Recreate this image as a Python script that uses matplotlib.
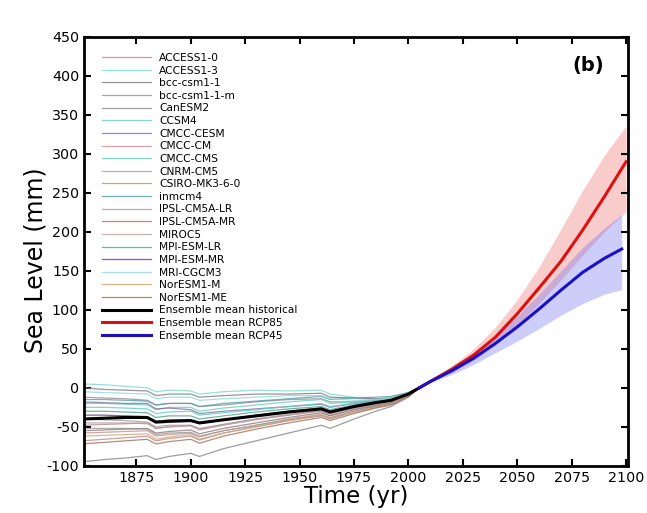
import matplotlib
matplotlib.use("Agg")
import matplotlib.pyplot as plt

plt.rcParams['axes.unicode_minus'] = False

# historical period, sampled years (mm, relative to 2005)
hist_years = [1850, 1860, 1870, 1880, 1884, 1890, 1900, 1904, 1915, 1930,
              1945, 1960, 1964, 1975, 1985, 1992, 2000, 2005]

model_names = ["ACCESS1-0", "ACCESS1-3", "bcc-csm1-1", "bcc-csm1-1-m", "CanESM2",
               "CCSM4", "CMCC-CESM", "CMCC-CM", "CMCC-CMS", "CNRM-CM5",
               "CSIRO-MK3-6-0", "inmcm4", "IPSL-CM5A-LR", "IPSL-CM5A-MR", "MIROC5",
               "MPI-ESM-LR", "MPI-ESM-MR", "MRI-CGCM3", "NorESM1-M", "NorESM1-ME"]

model_colors = ["#b08898", "#80d4d4", "#7c7c7c", "#909090", "#868686",
                "#70c8c0", "#8070a0", "#c89090", "#60c8c8", "#a0a0a0",
                "#b88a80", "#5a9aa8", "#9a9a9a", "#8a7a78", "#c09898",
                "#50a090", "#604070", "#90d8d8", "#d4a478", "#a07060"]

model_values = [
    [-48, -47, -46, -45, -52, -50, -48, -53, -47, -40, -35, -30, -35, -27, -22, -18, -8, 0],
    [5, 4, 2, 0, -5, -3, -4, -8, -5, -3, -4, -3, -8, -12, -15, -12, -6, 0],
    [0, -2, -3, -4, -10, -8, -8, -12, -10, -8, -8, -7, -12, -13, -14, -13, -7, 0],
    [-12, -13, -14, -16, -22, -20, -20, -24, -22, -18, -15, -14, -18, -18, -16, -15, -8, 0],
    [-95, -92, -90, -87, -92, -88, -84, -88, -78, -68, -58, -48, -52, -40, -30, -24, -12, 0],
    [-20, -20, -21, -22, -28, -25, -25, -30, -26, -22, -18, -15, -20, -18, -15, -14, -7, 0],
    [-18, -19, -20, -20, -27, -26, -28, -33, -30, -27, -24, -21, -25, -20, -17, -16, -8, 0],
    [-58, -57, -56, -55, -62, -60, -58, -63, -55, -48, -40, -34, -38, -30, -24, -20, -10, 0],
    [-25, -25, -26, -27, -33, -31, -30, -35, -32, -28, -24, -20, -24, -20, -17, -15, -8, 0],
    [-40, -41, -42, -44, -50, -48, -48, -52, -47, -40, -34, -29, -33, -26, -21, -18, -9, 0],
    [-68, -66, -64, -62, -68, -65, -62, -67, -58, -50, -42, -36, -40, -31, -25, -21, -10, 0],
    [-15, -15, -16, -17, -22, -20, -20, -24, -20, -17, -14, -11, -15, -13, -12, -11, -6, 0],
    [-52, -52, -52, -53, -60, -58, -57, -62, -55, -48, -41, -35, -39, -30, -24, -20, -10, 0],
    [-55, -54, -53, -52, -58, -56, -54, -59, -52, -45, -38, -32, -36, -28, -23, -19, -9, 0],
    [-45, -45, -45, -46, -52, -50, -49, -54, -48, -41, -35, -29, -33, -26, -21, -18, -9, 0],
    [-30, -30, -31, -32, -38, -36, -36, -40, -36, -31, -27, -24, -28, -22, -18, -16, -8, 0],
    [-35, -35, -36, -37, -43, -41, -41, -46, -41, -35, -30, -26, -30, -24, -19, -17, -8, 0],
    [-5, -6, -7, -8, -14, -12, -12, -16, -14, -12, -10, -10, -14, -16, -15, -13, -7, 0],
    [-62, -61, -60, -59, -66, -63, -60, -66, -58, -50, -42, -35, -39, -31, -25, -21, -10, 0],
    [-72, -70, -68, -66, -72, -69, -66, -71, -62, -53, -45, -38, -42, -33, -26, -22, -11, 0],
]

hist_mean = [-40, -39, -38, -38, -44, -43, -42, -45, -41, -36, -31, -27, -31, -24, -19, -16, -8, 0]

# projections
rcp85_years = [2005, 2010, 2020, 2030, 2040, 2050, 2060, 2070, 2080, 2090, 2100]
rcp85_mean = [0, 8, 24, 42, 65, 95, 128, 162, 202, 245, 290]
rcp85_high = [0, 9, 28, 50, 78, 113, 155, 203, 253, 298, 336]
rcp85_low = [0, 7, 20, 35, 55, 80, 108, 138, 170, 200, 226]

rcp45_years = [2005, 2010, 2020, 2030, 2040, 2050, 2060, 2070, 2080, 2090, 2098]
rcp45_mean = [0, 8, 22, 38, 57, 78, 101, 125, 148, 166, 178]
rcp45_high = [0, 9, 26, 45, 68, 92, 120, 150, 180, 205, 222]
rcp45_low = [0, 7, 17, 30, 45, 60, 76, 93, 108, 120, 126]

fig = plt.figure(figsize=(6.47, 5.13), dpi=100)
ax = fig.add_axes([0.130, 0.092, 0.841, 0.836])

for name, col, vals in zip(model_names, model_colors, model_values):
    ax.plot(hist_years, vals, color=col, lw=0.9, alpha=0.8, label=name)

ax.fill_between(rcp85_years, rcp85_low, rcp85_high, color="#f08080", alpha=0.4, lw=0)
ax.fill_between(rcp45_years, rcp45_low, rcp45_high, color="#7070f0", alpha=0.35, lw=0)

ax.plot(hist_years, hist_mean, color="black", lw=2.2, label="Ensemble mean historical")
ax.plot(rcp85_years, rcp85_mean, color="#dd1010", lw=2.2, label="Ensemble mean RCP85")
ax.plot(rcp45_years, rcp45_mean, color="#1a10c8", lw=2.2, label="Ensemble mean RCP45")

ax.set_xlim(1851, 2101)
ax.set_ylim(-100, 450)
ax.set_xticks([1875, 1900, 1925, 1950, 1975, 2000, 2025, 2050, 2075, 2100])
ax.set_yticks(range(-100, 451, 50))
ax.tick_params(direction="in", top=True, right=True, width=1.5, length=5, labelsize=10.3)
for sp in ax.spines.values():
    sp.set_linewidth(2)

ax.set_xlabel("Time (yr)", fontsize=16.5, labelpad=0)
ax.set_ylabel("Sea Level (mm)", fontsize=17, labelpad=0)
ax.yaxis.set_label_coords(-0.068, 0.48)
ax.text(0.955, 0.955, "(b)", transform=ax.transAxes, ha="right", va="top",
        fontsize=14, fontweight="bold")

ax.legend(loc="upper left", frameon=False, fontsize=7.7, handlelength=4.5,
          labelspacing=0.245, borderaxespad=0.3, bbox_to_anchor=(0.02, 0.98))

fig.savefig("out.png", dpi=100)
